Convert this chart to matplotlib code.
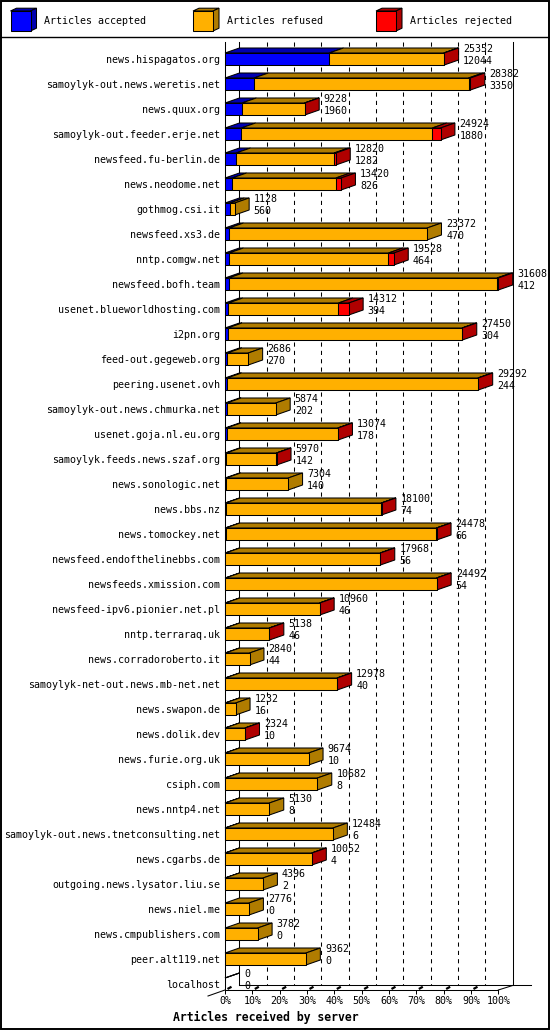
import matplotlib
matplotlib.use("Agg")
import matplotlib.pyplot as plt
from matplotlib.patches import Polygon, Rectangle
from matplotlib.transforms import offset_copy
import numpy as np

servers = [
    "news.hispagatos.org", "samoylyk-out.news.weretis.net", "news.quux.org",
    "samoylyk-out.feeder.erje.net", "newsfeed.fu-berlin.de", "news.neodome.net",
    "gothmog.csi.it", "newsfeed.xs3.de", "nntp.comgw.net", "newsfeed.bofh.team",
    "usenet.blueworldhosting.com", "i2pn.org", "feed-out.gegeweb.org",
    "peering.usenet.ovh", "samoylyk-out.news.chmurka.net", "usenet.goja.nl.eu.org",
    "samoylyk.feeds.news.szaf.org", "news.sonologic.net", "news.bbs.nz",
    "news.tomockey.net", "newsfeed.endofthelinebbs.com", "newsfeeds.xmission.com",
    "newsfeed-ipv6.pionier.net.pl", "nntp.terraraq.uk", "news.corradoroberto.it",
    "samoylyk-net-out.news.mb-net.net", "news.swapon.de", "news.dolik.dev",
    "news.furie.org.uk", "csiph.com", "news.nntp4.net",
    "samoylyk-out.news.tnetconsulting.net", "news.cgarbs.de",
    "outgoing.news.lysator.liu.se", "news.niel.me", "news.cmpublishers.com",
    "peer.alt119.net", "localhost",
]
offered = [25352, 28382, 9228, 24924, 12820, 13420, 1128, 23372, 19528, 31608,
           14312, 27450, 2686, 29292, 5874, 13074, 5970, 7304, 18100, 24478,
           17968, 24492, 10960, 5138, 2840, 12978, 1232, 2324, 9674, 10682,
           5130, 12484, 10052, 4396, 2776, 3782, 9362, 0]
accepted = [12044, 3350, 1960, 1880, 1282, 826, 560, 470, 464, 412,
            394, 304, 270, 244, 202, 178, 142, 140, 74, 66,
            56, 54, 46, 46, 44, 40, 16, 10, 10, 8,
            8, 6, 4, 2, 0, 0, 0, 0]
# rejected counts estimated from the red segments
rejected = [60, 210, 30, 950, 200, 600, 0, 0, 625, 150,
            1190, 40, 0, 50, 0, 30, 20, 0, 20, 20,
            20, 20, 20, 20, 0, 20, 0, 20, 0, 0,
            0, 0, 20, 0, 0, 0, 0, 0]
xticks = list(range(0, 101, 10))
xticklabels = [f"{t}%" for t in xticks]
legend_labels = ["Articles accepted", "Articles refused", "Articles rejected"]

front_cols = ["#0000FF", "#FFB000", "#FF0000"]
shade_cols = ["#0000B0", "#B07C00", "#B00000"]

offered = np.array(offered, float)
accepted = np.array(accepted, float)
rejected = np.array(rejected, float)
refused = offered - accepted - rejected
vmax = offered.max()
segs = [accepted / vmax * 100, refused / vmax * 100, rejected / vmax * 100]

W, H = 550, 1030
fig = plt.figure(figsize=(W / 100, H / 100), dpi=100)
fig.patch.set_facecolor("white")

# layout in pixels
X0, X100 = 225.0, 498.3
YTOP, YBOT = 42.0, 990.0
ROW0, PITCH = 59.0, 25.0
ppp = (X100 - X0) / 100.0       # px per percent
DX = 14.4 / ppp                 # depth in percent
DY = 5.0 / PITCH                # depth in rows
HH = 6.0 / PITCH                # half bar height in rows

ax = fig.add_axes([X0 / W, (H - YBOT) / H, (X100 - X0) / W, (YBOT - YTOP) / H])
ax.set_xlim(0, 100)
ax.set_ylim((YBOT - ROW0) / PITCH, (YTOP - ROW0) / PITCH)
for s in ax.spines.values():
    s.set_visible(False)
ax.patch.set_alpha(0)

mono = "DejaVu Sans Mono"
fs = 7.2
rows = np.arange(len(servers))
ax.set_yticks(rows, servers, fontfamily=mono, fontsize=fs)
ax.tick_params(axis="y", length=0, pad=3.3)
ax.set_xticks(xticks, xticklabels, fontfamily=mono, fontsize=fs)
ax.tick_params(axis="x", length=3.5 * 0.72, width=0.72, pad=1.9, direction="out")

lw = 0.75
ybot = (YBOT - ROW0) / PITCH
yback = ybot - DY * 0.9
ytop = (YTOP - ROW0) / PITCH

# back wall grid lines
for t in xticks:
    ls = "-" if t in (0, 100) else (0, (4, 4))
    ax.plot([t + DX, t + DX], [ytop, yback], color="black", lw=lw, ls=ls,
            zorder=1, clip_on=False)
# front left axis line
ax.plot([0, 0], [ytop, ybot], color="black", lw=lw, zorder=1, clip_on=False)
# floor
ax.plot([0, 100], [ybot, ybot], color="black", lw=lw, zorder=1, clip_on=False)
ax.plot([DX, (531 - X0) / ppp], [yback, yback], color="black", lw=lw, zorder=1, clip_on=False)
ax.plot([100, 100 + DX], [ybot, yback], color="black", lw=lw, zorder=1, clip_on=False)
ax.plot([-17 / ppp, 0], [ybot + 0.24, ybot], color="black", lw=lw, zorder=1, clip_on=False)
# little 3D tick marks
for t in xticks[:-1]:
    ax.plot([t + 2.5 / ppp, t + 6.5 / ppp], [ybot - 0.04, ybot - 0.13],
            color="black", lw=1.6, zorder=1, clip_on=False, solid_capstyle="butt")

# bars
for i in rows:
    left = 0.0
    last = 1
    for k in range(3):
        w = segs[k][i]
        if w > 0 or offered[i] == 0:
            top = [(left, i - HH), (left + w, i - HH),
                   (left + w + DX, i - HH - DY), (left + DX, i - HH - DY)]
            ax.add_patch(Polygon(top, closed=True, facecolor=shade_cols[k],
                                 edgecolor="black", lw=lw, zorder=3, clip_on=False))
        if w > 0:
            last = k
        left += w
    if offered[i] > 0:
        end = left
        side = [(end, i - HH), (end + DX, i - HH - DY),
                (end + DX, i + HH - DY), (end, i + HH)]
        ax.add_patch(Polygon(side, closed=True, facecolor=shade_cols[last],
                             edgecolor="black", lw=lw, zorder=3, clip_on=False))

lefts = np.zeros(len(rows))
for k in range(3):
    w = segs[k]
    mask = w > 0
    ax.barh(rows[mask], w[mask], left=lefts[mask], height=2 * HH,
            color=front_cols[k], edgecolor="black", linewidth=lw, zorder=4,
            clip_on=False)
    lefts = lefts + w

# value labels
tr_top = offset_copy(ax.transData, fig=fig, x=19, y=10, units="dots")
tr_bot = offset_copy(ax.transData, fig=fig, x=19, y=-2, units="dots")
for i in rows:
    end = offered[i] / vmax * 100
    ax.text(end, i, f"{int(offered[i])}", transform=tr_top, ha="left", va="center",
            fontfamily=mono, fontsize=fs, zorder=5)
    ax.text(end, i, f"{int(accepted[i])}", transform=tr_bot, ha="left", va="center",
            fontfamily=mono, fontsize=fs, zorder=5)

# overlay for frame, legend and axis title (pixel coords)
ov = fig.add_axes([0, 0, 1, 1], zorder=-1)
ov.set_xlim(0, W)
ov.set_ylim(H, 0)
ov.axis("off")
ov.add_patch(Rectangle((0.8, 0.8), W - 1.6, H - 1.6, fill=False, edgecolor="black", lw=1.4))
ov.plot([0, W], [36.5, 36.5], color="black", lw=1.0)

leg_x = [10.5, 193.0, 376.0]
for k in range(3):
    x, y, s = leg_x[k], 11.0, 20.0
    ov.add_patch(Polygon([(x, y), (x + s, y), (x + s + 6, y - 2.8), (x + 6, y - 2.8)],
                         closed=True, facecolor=shade_cols[k], edgecolor="black", lw=lw))
    ov.add_patch(Polygon([(x + s, y), (x + s + 6, y - 2.8), (x + s + 6, y + s - 2.8), (x + s, y + s)],
                         closed=True, facecolor=shade_cols[k], edgecolor="black", lw=lw))
    ov.add_patch(Rectangle((x, y), s, s, facecolor=front_cols[k], edgecolor="black", lw=lw))
    ov.text(x + 34, 21.0, legend_labels[k], ha="left", va="center",
            fontfamily=mono, fontsize=fs)

fig.text(266 / W, 1 - 1017 / H, "Articles received by server", ha="center", va="center",
         fontfamily=mono, fontweight="bold", fontsize=8.3)

fig.savefig("out.png", dpi=100, facecolor="white")
